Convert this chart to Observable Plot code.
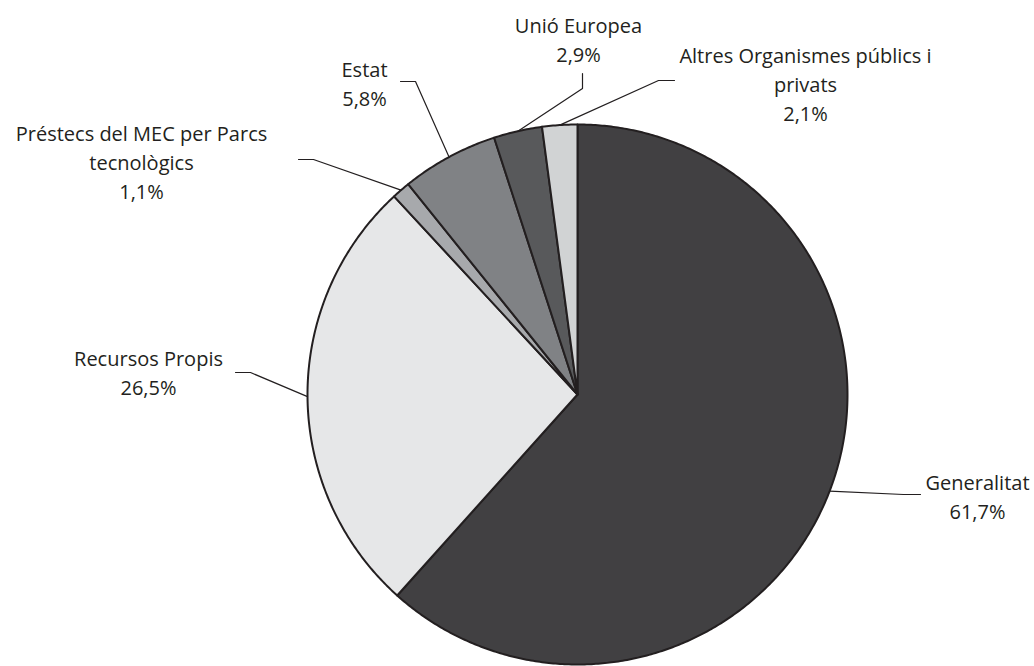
<!DOCTYPE html>
<html><head><meta charset="utf-8">
<script src="https://cdn.jsdelivr.net/npm/d3@7"></script>
<script src="https://cdn.jsdelivr.net/npm/@observablehq/plot@0.6"></script>
<style>body{margin:0;background:#fff}</style>
</head><body><div id="chart"></div>
<script>
const categories = ["Generalitat", "Recursos Propis", "Préstecs del MEC per Parcs\ntecnològics", "Estat", "Unió Europea", "Altres Organismes públics i\nprivats"];
const values = [61.7, 26.5, 1.1, 5.8, 2.9, 2.1];
const colors = ["#414042", "#e6e7e8", "#a7a9ac", "#808285", "#58595b", "#d1d3d4"];
// label layout (pixels)
const labelX = [977, 148, 141, 364, 578, 805];
const labelY = [495, 371, 160, 82, 38, 82];
const elbowX = [903, 250, 313, 415, 582, 658];
const elbowY = [494, 372, 159, 81, 88, 80];
const endX = [920, 235, 298, 400, 582, 674];
const endY = [494, 372, 159, 81, 73, 80];

const W = 1034, H = 666, CX = 577, CY = 394, R = 270;
const ux = px => (px - CX) / R, uy = py => (CY - py) / R;

const arcs = d3.pie().sort(null).value(d => d)(values);
const slicePts = [];
arcs.forEach((a, i) => {
  slicePts.push({name: categories[i], x: 0, y: 0});
  const n = Math.max(4, Math.ceil((a.endAngle - a.startAngle) * 120));
  for (let k = 0; k <= n; k++) {
    const t = a.startAngle + (a.endAngle - a.startAngle) * k / n;
    slicePts.push({name: categories[i], x: Math.sin(t), y: Math.cos(t)});
  }
});
const leaderPts = [];
arcs.forEach((a, i) => {
  const m = (a.startAngle + a.endAngle) / 2;
  leaderPts.push({name: categories[i], x: Math.sin(m), y: Math.cos(m)});
  leaderPts.push({name: categories[i], x: ux(elbowX[i]), y: uy(elbowY[i])});
  leaderPts.push({name: categories[i], x: ux(endX[i]), y: uy(endY[i])});
});
const labels = categories.map((c, i) => ({
  text: `${c}\n${values[i].toFixed(1).replace(".", ",")}%`,
  x: ux(labelX[i]), y: uy(labelY[i])
}));

const chart = Plot.plot({
  width: W, height: H,
  margin: 0,
  x: {domain: [ux(0), ux(W)], range: [0, W], axis: null},
  y: {domain: [uy(H), uy(0)], range: [H, 0], axis: null},
  color: {domain: categories, range: colors},
  style: {fontFamily: "'Open Sans', sans-serif", background: "#fff"},
  marks: [
    Plot.line(slicePts, {x: "x", y: "y", z: "name", fill: "name", stroke: "#231f20", strokeWidth: 2, curve: "linear-closed"}),
    Plot.line(leaderPts, {x: "x", y: "y", z: "name", stroke: "#231f20", strokeWidth: 1.2}),
    Plot.text(labels, {x: "x", y: "y", text: "text", fontSize: 20, lineHeight: 1.45, fill: "#231f20", textAnchor: "middle", lineAnchor: "middle"})
  ]
});
document.getElementById("chart").appendChild(chart);
</script>
</body></html>
